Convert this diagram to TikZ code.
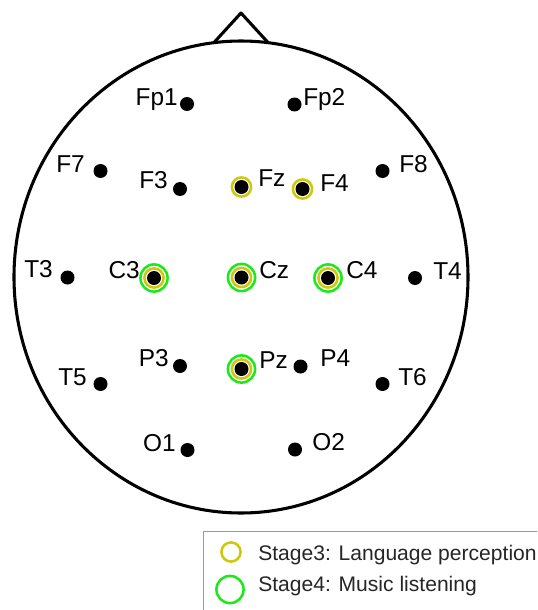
\documentclass[tikz,border=0pt]{standalone}
\usepackage{fontspec}
\usepackage{tikz}
\newfontfamily\headfont{Liberation Sans}
\definecolor{langyellow}{RGB}{205,200,10}
\definecolor{musicgreen}{RGB}{25,235,25}
\tikzstyle{head} = [line width=2.3pt, line join=round]
\tikzstyle{electrode} = [circle, fill=black, inner sep=0, minimum size=10.5pt]
\tikzstyle{ring3} = [circle, draw=langyellow, line width=1.9pt, inner sep=0, minimum size=14.4pt]
\tikzstyle{ring4} = [circle, draw=musicgreen, line width=1.9pt, inner sep=0, minimum size=20.4pt]
\tikzstyle{chan} = [inner sep=0, font=\headfont\fontsize{18.3}{20}\selectfont]
\tikzstyle{keytext} = [inner sep=0, text=black!85, font=\headfont\fontsize{15.8}{18}\selectfont]
\tikzstyle{legendbox} = [rectangle, draw=black!40, line width=1.1pt, fill=white, inner sep=0]

\begin{document}
\begin{tikzpicture}[x=0.75pt, y=-0.75pt]
        \clip (0,0) rectangle (537,610);
        \fill[white] (0,0) rectangle (537,610);
        % head and nose
        \draw [head] (241,277) ellipse [x radius=227, y radius=236];
        \draw [head] (214,42.5) -- (241,13) -- (268,42.5);
        % electrodes
        \node (Fp1) [electrode] at (187,104) {};
        \node (Fp2) [electrode] at (294.5,104.5) {};
        \node (F7) [electrode] at (100.5,171) {};
        \node (F3) [electrode] at (180,189) {};
        \node (Fz) [electrode] at (241.5,187) {};
        \node (F4) [electrode] at (302.5,189) {};
        \node (F8) [electrode] at (382.5,171) {};
        \node (T3) [electrode] at (67.5,277.5) {};
        \node (C3) [electrode] at (154,278) {};
        \node (Cz) [electrode] at (241.5,277.5) {};
        \node (C4) [electrode] at (328,278) {};
        \node (T4) [electrode] at (415,278) {};
        \node (T5) [electrode] at (100.5,384) {};
        \node (P3) [electrode] at (180,366) {};
        \node (Pz) [electrode] at (241.5,369) {};
        \node (P4) [electrode] at (300.5,366.5) {};
        \node (T6) [electrode] at (382.5,384) {};
        \node (O1) [electrode] at (187.5,450) {};
        \node (O2) [electrode] at (295,449.5) {};
        % highlighted channels
        \node (Fz-lang) [ring3] at (Fz) {};
        \node (F4-lang) [ring3] at (F4) {};
        \node (C3-lang) [ring3] at (C3) {};
        \node (Cz-lang) [ring3] at (Cz) {};
        \node (C4-lang) [ring3] at (C4) {};
        \node (Pz-lang) [ring3] at (Pz) {};
        \node (C3-music) [ring4] at (C3) {};
        \node (Cz-music) [ring4] at (Cz) {};
        \node (C4-music) [ring4] at (C4) {};
        \node (Pz-music) [ring4] at (Pz) {};
        % channel names
        \node (Fp1-name) [chan, anchor=base east] at (178,105) {Fp1};
        \node (Fp2-name) [chan, anchor=base west] at (303,105.5) {Fp2};
        \node (F7-name) [chan, anchor=base east] at (85,172.5) {F7};
        \node (F3-name) [chan, anchor=base east] at (168,188.5) {F3};
        \node (Fz-name) [chan, anchor=base west] at (258,186.5) {Fz};
        \node (F4-name) [chan, anchor=base west] at (320,191.5) {F4};
        \node (F8-name) [chan, anchor=base west] at (399,172.5) {F8};
        \node (T3-name) [chan, anchor=base east] at (53,277.5) {T3};
        \node (C3-name) [chan, anchor=base east] at (140,278) {C3};
        \node (Cz-name) [chan, anchor=base west] at (259,278) {Cz};
        \node (C4-name) [chan, anchor=base west] at (346,278) {C4};
        \node (T4-name) [chan, anchor=base west] at (433,279) {T4};
        \node (T5-name) [chan, anchor=base east] at (87,385) {T5};
        \node (P3-name) [chan, anchor=base east] at (169,366.5) {P3};
        \node (Pz-name) [chan, anchor=base west] at (259,368.5) {Pz};
        \node (P4-name) [chan, anchor=base west] at (320,366.5) {P4};
        \node (T6-name) [chan, anchor=base west] at (398,385) {T6};
        \node (O1-name) [chan, anchor=base east] at (176,451.5) {O1};
        \node (O2-name) [chan, anchor=base west] at (312,450.5) {O2};
        % legend
        \node (legend) [legendbox, anchor=north west, minimum width=270pt, minimum height=85pt] at (203,531) {};
        \node (key-lang) [ring3] at (231,552) {};
        \node (key-lang-text) [keytext, anchor=base west] at (258,560) {Stage3: Language perception};
        \node (key-music) [ring4] at (230,589.5) {};
        \node (key-music-text) [keytext, anchor=base west] at (258,591.5) {Stage4: Music listening};
    \end{tikzpicture}
\end{document}
